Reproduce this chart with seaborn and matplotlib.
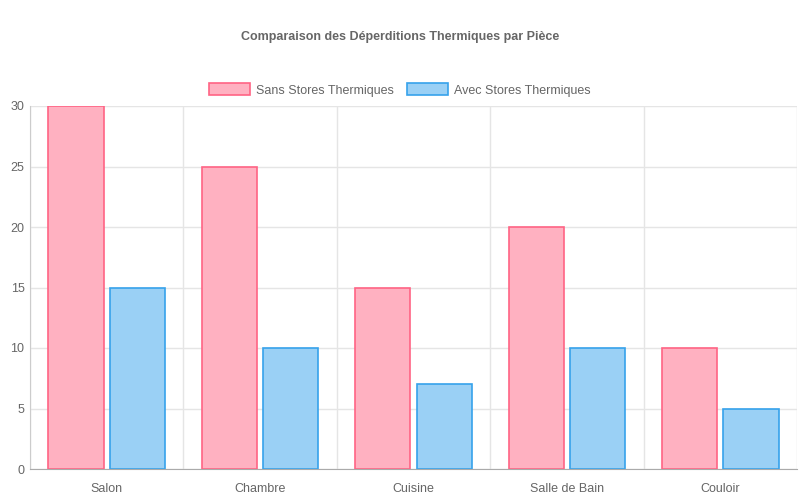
import matplotlib
matplotlib.use("Agg")
import matplotlib.pyplot as plt
import seaborn as sns
import pandas as pd
from matplotlib.patches import Patch

pieces = ["Salon", "Chambre", "Cuisine", "Salle de Bain", "Couloir"]
sans_stores = [30, 25, 15, 20, 10]
avec_stores = [15, 10, 7, 10, 5]
series = ["Sans Stores Thermiques", "Avec Stores Thermiques"]

df = pd.DataFrame({
    "piece": pieces * 2,
    "val": sans_stores + avec_stores,
    "serie": [series[0]] * 5 + [series[1]] * 5,
})

sns.set_style("white")
plt.rcParams['font.family'] = ['Liberation Sans', 'DejaVu Sans']

fills = ["#FFB1C1", "#9AD0F5"]
edges = ["#FF6384", "#36A2EB"]

fig = plt.figure(figsize=(8, 5), dpi=100)
ax = fig.add_axes([0.0375, 0.062, 0.9588, 0.726])
sns.barplot(data=df, x="piece", y="val", hue="serie", palette=fills,
            width=0.8, gap=0.1, ax=ax, legend=False, saturation=1)
for i, bars in enumerate(ax.containers):
    for p in bars:
        p.set_edgecolor(edges[i]); p.set_linewidth(1.2)

ax.set_xlim(-0.5, 4.5)
ax.set_ylim(0, 30)
ax.set_yticks(range(0, 31, 5))
ax.set_xticks([-0.5 + i for i in range(6)], minor=True)
ax.grid(axis="x", which="minor", color="#e5e5e5", lw=1)
ax.grid(axis="y", which="major", color="#e5e5e5", lw=1)
ax.set_axisbelow(True)
ax.tick_params(axis="x", which="minor", length=10, color="#e5e5e5")
ax.tick_params(axis="x", which="major", length=0, pad=10, labelsize=9, labelcolor="#666")
ax.tick_params(axis="y", length=0, pad=4, labelsize=9, labelcolor="#666")
for s in ["top", "right"]:
    ax.spines[s].set_visible(False)
ax.spines["left"].set_color("#cccccc")
ax.spines["bottom"].set_color("#aaaaaa")
ax.set_xlabel(""); ax.set_ylabel("")

fig.text(0.5, 0.926, "Comparaison des Déperditions Thermiques par Pièce",
         ha="center", va="center", fontsize=9, fontweight="bold", color="#666")
handles = [Patch(facecolor=fills[i], edgecolor=edges[i], lw=1.2, label=series[i]) for i in range(2)]
fig.legend(handles=handles, loc="center", bbox_to_anchor=(0.5, 0.82), ncol=2,
           frameon=False, fontsize=9, labelcolor="#666", handlelength=3.3,
           handleheight=1.1, handletextpad=0.5, columnspacing=1.0)
fig.savefig("out.png")
